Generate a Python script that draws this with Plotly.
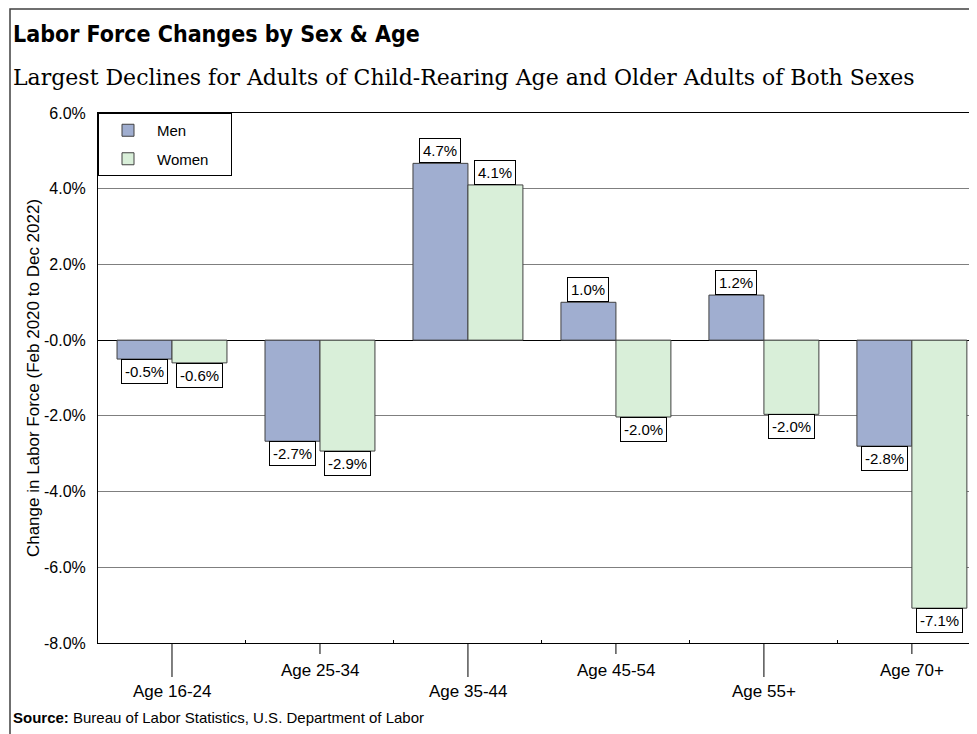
import plotly.graph_objects as go

# data
age_groups = ["Age 16-24", "Age 25-34", "Age 35-44", "Age 45-54", "Age 55+", "Age 70+"]
men_change = [-0.5, -2.67, 4.67, 1.0, 1.19, -2.8]
women_change = [-0.6, -2.93, 4.1, -2.03, -1.96, -7.08]
y_tick_vals = [-8, -6, -4, -2, 0, 2, 4, 6]
y_tick_text = ["-8.0%", "-6.0%", "-4.0%", "-2.0%", "-0.0%", "2.0%", "4.0%", "6.0%"]

MEN_COLOR = "#a0aed0"
WOMEN_COLOR = "#d9efd9"
EDGE = "#404040"
LABEL_FONT = "Liberation Sans, Arial, sans-serif"

# the page body adds an 8px offset, so layout pixels are screen pixels minus 8
OFF = 8
W, H = 977, 734
L, R, T, B = 98 - OFF, 977 - OFF, 113 - OFF, 643 - OFF


def px_x(px):
    return (px - OFF - L) / (R - L)


def px_y(py):
    return (B - (py - OFF)) / (B - T)


fig = go.Figure()
# trailing no-break spaces widen the legend box like the original
fig.add_trace(go.Bar(name="Men", x=age_groups, y=men_change, legendgroup="men",
                     marker=dict(color=MEN_COLOR, line=dict(color=EDGE, width=1))))
fig.add_trace(go.Bar(name="Women\u00a0\u00a0\u00a0\u00a0", x=age_groups, y=women_change, legendgroup="women",
                     marker=dict(color=WOMEN_COLOR, line=dict(color=EDGE, width=1))))

annotations = []

# boxed value labels, above positive bars and below negative ones
for series, shift in ((men_change, -27.5), (women_change, 27.5)):
    for cat, v in zip(age_groups, series):
        annotations.append(dict(
            x=cat, y=v, xref="x", yref="y", xshift=shift,
            yanchor="bottom" if v >= 0 else "top",
            text=f"{v:.1f}%", showarrow=False,
            font=dict(family=LABEL_FONT, size=15, color="black"),
            bgcolor="white", bordercolor="black", borderwidth=1, borderpad=3,
        ))

# staggered category labels
shapes = []
for i, cat in enumerate(age_groups):
    low = i % 2 == 0
    annotations.append(dict(
        x=cat, y=0, xref="x", yref="paper", yanchor="middle",
        yshift=-48 if low else -27, text=cat, showarrow=False,
        font=dict(family=LABEL_FONT, size=17, color="black"),
    ))
    shapes.append(dict(
        type="line", xref="x", yref="paper", x0=cat, x1=cat,
        ysizemode="pixel", yanchor=0, y0=0, y1=-34 if low else -11,
        line=dict(color="black", width=1),
    ))

# title, subtitle, source
annotations += [
    dict(x=px_x(11), y=px_y(34), xref="paper", yref="paper", xanchor="left", yanchor="middle",
         text="<b>Labor Force Changes by Sex & Age</b>", showarrow=False,
         font=dict(family="DejaVu Sans Condensed, Liberation Sans, sans-serif", size=23, color="black")),
    dict(x=px_x(11), y=px_y(78), xref="paper", yref="paper", xanchor="left", yanchor="middle",
         text="Largest Declines for Adults of Child-Rearing Age and Older Adults of Both Sexes",
         showarrow=False, font=dict(family="DejaVu Serif, serif", size=22, color="black")),
    dict(x=px_x(11), y=px_y(717), xref="paper", yref="paper", xanchor="left", yanchor="middle",
         text="<b>Source:</b> Bureau of Labor Statistics, U.S. Department of Labor",
         showarrow=False, font=dict(family=LABEL_FONT, size=15, color="black")),
]

# outer frame of the graphic
shapes.append(dict(type="rect", xref="paper", yref="paper",
                   x0=px_x(10), x1=px_x(990), y0=px_y(745), y1=px_y(9),
                   line=dict(color="#404040", width=1.5), fillcolor="rgba(0,0,0,0)"))

fig.update_layout(
    width=W, height=H,
    margin=dict(l=L, r=W - R, t=T, b=H - B, autoexpand=False),
    paper_bgcolor="white", plot_bgcolor="white",
    barmode="group", bargap=0.257, bargroupgap=0,
    showlegend=True,
    legend=dict(x=0, y=1, xanchor="left", yanchor="top", traceorder="grouped",
                tracegroupgap=6, itemwidth=48,
                bgcolor="white", bordercolor="black", borderwidth=1,
                font=dict(family=LABEL_FONT, size=15, color="black")),
    annotations=annotations, shapes=shapes,
)
fig.update_xaxes(range=[-0.5, 5.44], showticklabels=False, ticks="inside", ticklen=3,
                 tickson="boundaries", tickcolor="black", automargin=False,
                 showline=True, linecolor="black", mirror=True, showgrid=False)
fig.update_yaxes(range=[-8, 6], tickvals=y_tick_vals, ticktext=y_tick_text,
                 tickfont=dict(family=LABEL_FONT, size=16, color="black"),
                 ticks="", ticklabelstandoff=8, automargin=False,
                 showline=True, linecolor="black", showgrid=True, gridcolor="#7f7f7f",
                 zeroline=True, zerolinecolor="black", zerolinewidth=1,
                 title=dict(text="Change in Labor Force (Feb 2020 to Dec 2022)",
                            font=dict(family=LABEL_FONT, size=17, color="black"), standoff=0))

fig.write_html("out.html")
